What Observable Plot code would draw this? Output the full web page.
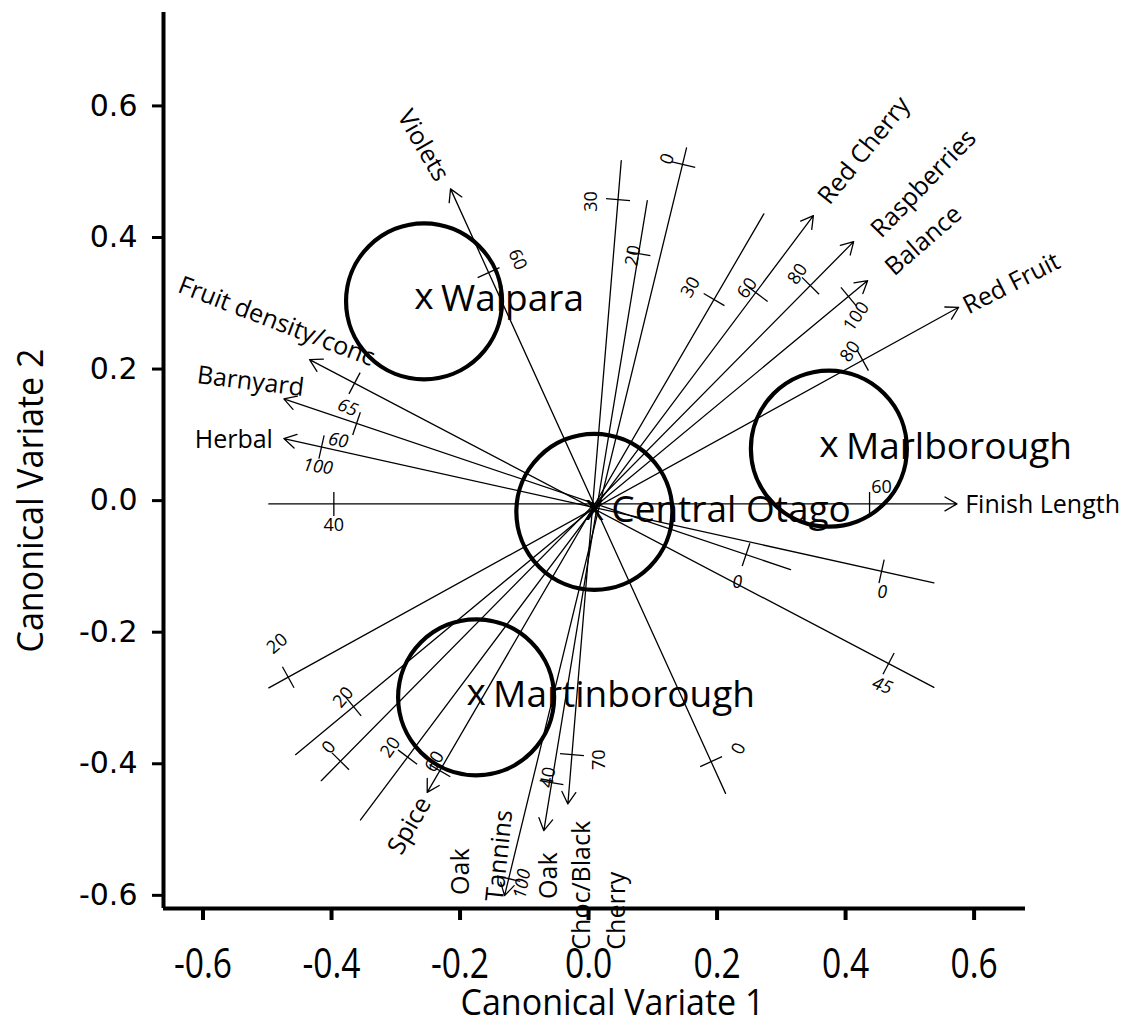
<!DOCTYPE html>
<html>
<head>
<meta charset="utf-8">
<script src="https://cdn.jsdelivr.net/npm/d3@7"></script>
<script src="https://cdn.jsdelivr.net/npm/@observablehq/plot@0.6"></script>
<style>
html, body { margin: 0; padding: 0; background: #fff; }
#chart { width: 1129px; height: 1026px; }
</style>
</head>
<body>
<div id="chart"></div>
<script>
// ---- Axis ticks ----
const xTicks = [-0.6, -0.4, -0.2, 0, 0.2, 0.4, 0.6];
const yTicks = [-0.6, -0.4, -0.2, 0, 0.2, 0.4, 0.6];
const xTitle = "Canonical Variate 1";
const yTitle = "Canonical Variate 2";

// ---- Group means (canonical variate scores) ----
const groupNames = ["Waipara", "Marlborough", "Central Otago", "Martinborough"];
const groupCV1 = [-0.256, 0.374, 0.009, -0.175];
const groupCV2 = [0.303, 0.079, -0.017, -0.299];

// ---- Attribute biplot axes: arrow tip and far end ----
const variables = ["Violets", "Fruit density/conc", "Barnyard", "Herbal", "Finish Length",
  "Red Cherry", "Raspberries", "Balance", "Red Fruit", "Spice", "Tannins", "Oak", "Choc/Black Cherry"];
const tipCV1 = [-0.2148, -0.4342, -0.4742, -0.4742, 0.5734, 0.3499, 0.4126, 0.4344, 0.5760, -0.2511, -0.1307, -0.0696, -0.0322];
const tipCV2 = [0.4739, 0.2144, 0.1546, 0.0943, -0.0050, 0.4333, 0.3937, 0.3345, 0.2939, -0.4435, -0.6005, -0.5017, -0.4611];
const farCV1 = [0.2132, 0.5374, 0.3144, 0.5374, -0.4976, -0.3549, -0.4160, -0.4560, -0.4976, 0.2728, 0.1525, 0.0914, 0.0509];
const farCV2 = [-0.4450, -0.2838, -0.1049, -0.1251, -0.0050, -0.4854, -0.4257, -0.3861, -0.2847, 0.4359, 0.5362, 0.4561, 0.5169];

// ---- Attribute labels ----
const labelText = ["Violets", "Fruit density/conc", "Barnyard", "Herbal", "Finish Length",
  "Red Cherry", "Raspberries", "Balance", "Red Fruit", "Spice", "Oak", "Tannins", "Oak", "Choc/Black\nCherry"];
const labelCV1 = [-0.2576, -0.4856, -0.5261, -0.5521, 0.7066, 0.4288, 0.5214, 0.5214, 0.6584, -0.2786, -0.1992, -0.1385, -0.0623, 0.0117];
const labelCV2 = [0.5397, 0.2721, 0.1809, 0.0917, -0.0061, 0.5321, 0.4819, 0.3953, 0.3299, -0.4941, -0.5640, -0.5397, -0.5701, -0.6826];
const labelAngle = [60, 21, 7, 0, 0, -51, -46, -41, -27, -60, -90, -84, -90, -90];
const labelStartAnchored = [false, false, false, false, false, false, false, false, false, false, false, false, false, true];

// ---- Calibration ticks on the biplot axes ----
const tickVar = [0, 0, 1, 2, 3, 4, 4, 2, 3, 1, 8, 7, 6, 5, 9, 9, 5, 6, 7, 8, 12, 11, 10, 11, 12, 10];
const tickValue = ["60", "0", "65", "60", "100", "40", "60", "0", "0", "45", "20", "20", "0", "20", "60", "30", "60", "80", "100", "80", "30", "20", "0", "40", "70", "100"];
const tickCV1 = [-0.1556, 0.1907, -0.3642, -0.3611, -0.4156, -0.3964, 0.4373, 0.2451, 0.4560, 0.4669, -0.4674, -0.3658, -0.3860, -0.2817, -0.2313, 0.1953, 0.2638, 0.3455, 0.4047, 0.4265, 0.0459, 0.0778, 0.1479, -0.0576, -0.0258, -0.1245];
const tickCV2 = [0.3466, -0.3968, 0.1785, 0.1171, 0.0815, -0.0050, -0.0050, -0.0821, -0.1075, -0.2478, -0.2685, -0.3132, -0.3963, -0.3898, -0.4105, 0.3056, 0.3136, 0.3265, 0.3101, 0.2136, 0.4576, 0.3755, 0.5108, -0.4287, -0.3861, -0.5746];
const tickLabelCV1 = [-0.1105, 0.2335, -0.3751, -0.3896, -0.4213, -0.3964, 0.4560, 0.2314, 0.4571, 0.4571, -0.4845, -0.3818, -0.4042, -0.3082, -0.2397, 0.1588, 0.2470, 0.3253, 0.4167, 0.4072, 0.0044, 0.0693, 0.1225, -0.0630, 0.0160, -0.1032];
const tickLabelCV2 = [0.3664, -0.3770, 0.1414, 0.0912, 0.0517, -0.0380, 0.0198, -0.1242, -0.1394, -0.2812, -0.2174, -0.2990, -0.3750, -0.3750, -0.3968, 0.3243, 0.3231, 0.3446, 0.2800, 0.2268, 0.4549, 0.3725, 0.5195, -0.4206, -0.3937, -0.5827];
const tickLabelAngle = [66, -65, 22, 10, 8, 0, 0, 0, 0, 20, -40, -50, -50, -55, -60, -60, -55, -55, -55, -55, -90, -80, -70, -80, -90, -80];
const tickItalic = [false, false, true, true, true, false, false, true, true, true, false, false, false, false, false, false, false, false, false, false, false, false, false, false, false, true];

// ---- Layout ----
const W = 1129, H = 1026;
const mL = 163, mR = 104, mT = 12, mB = 118;
const xDom = [-0.6615, 0.680], yDom = [-0.620, 0.742];
const kx = (W - mL - mR) / (xDom[1] - xDom[0]);
const ky = (H - mT - mB) / (yDom[1] - yDom[0]);

const groups = groupNames.map((name, i) => ({name, x: groupCV1[i], y: groupCV2[i]}));
const vectors = variables.map((name, i) => ({name, x1: farCV1[i], y1: farCV2[i], x2: tipCV1[i], y2: tipCV2[i]}));
const labels = labelText.map((t, i) => ({text: t, x: labelCV1[i], y: labelCV2[i], angle: labelAngle[i], start: labelStartAnchored[i]}));

const half = 12;
const ticks = tickVar.map((v, i) => {
  const vec = vectors[v];
  const dx = (vec.x2 - vec.x1) * kx, dy = -(vec.y2 - vec.y1) * ky;
  const len = Math.hypot(dx, dy);
  const px = -dy / len, py = dx / len;
  return {
    x1: tickCV1[i] - half * px / kx, y1: tickCV2[i] + half * py / ky,
    x2: tickCV1[i] + half * px / kx, y2: tickCV2[i] - half * py / ky,
    label: tickValue[i], lx: tickLabelCV1[i], ly: tickLabelCV2[i],
    angle: tickLabelAngle[i], italic: tickItalic[i]
  };
});

const font = "'Open Sans', sans-serif";
const chart = Plot.plot({
  width: W, height: H,
  marginLeft: mL, marginRight: mR, marginTop: mT, marginBottom: mB,
  x: {domain: xDom},
  y: {domain: yDom},
  style: {fontFamily: font, background: "white", color: "black", overflow: "visible"},
  marks: [
    Plot.axisX({ticks: xTicks, tickFormat: d => d.toFixed(1), tickSize: 12, tickPadding: 28,
      fontSize: 42, strokeWidth: 4, label: null}),
    Plot.axisY({ticks: yTicks, tickFormat: d => d.toFixed(1), tickSize: 11, tickPadding: 15,
      fontSize: 30, fontFamily: "'DejaVu Sans', sans-serif", strokeWidth: 3, label: null}),
    Plot.ruleX([xDom[0]], {strokeWidth: 4}),
    Plot.ruleY([yDom[0]], {strokeWidth: 4}),
    Plot.dot(groups, {x: "x", y: "y", r: 78, stroke: "black", strokeWidth: 4.2, fill: "none"}),
    Plot.arrow(vectors, {x1: "x1", y1: "y1", x2: "x2", y2: "y2", stroke: "black", strokeWidth: 1.3, headLength: 16, headAngle: 60}),
    Plot.link(ticks, {x1: "x1", y1: "y1", x2: "x2", y2: "y2", stroke: "black", strokeWidth: 1.3}),
    Plot.text(ticks.filter(d => !d.italic), {x: "lx", y: "ly", text: "label", rotate: "angle", fontSize: 18, fill: "black"}),
    Plot.text(ticks.filter(d => d.italic), {x: "lx", y: "ly", text: "label", rotate: "angle", fontSize: 18, fontStyle: "italic", fill: "black"}),
    Plot.text(labels.filter(d => !d.start), {x: "x", y: "y", text: "text", rotate: "angle", fontSize: 25, fill: "black"}),
    Plot.text(labels.filter(d => d.start), {x: "x", y: "y", text: "text", rotate: "angle", fontSize: 25, textAnchor: "start", lineHeight: 1.4, fill: "black"}),
    Plot.text(groups, {x: "x", y: "y", text: () => "x", fontSize: 37, dy: -4, fill: "black"}),
    Plot.text(groups, {x: "x", y: "y", text: "name", fontSize: 37, textAnchor: "start", dx: 17, dy: -2, fill: "black"}),
    Plot.text([xTitle], {frameAnchor: "bottom", text: d => d, fontSize: 37, dx: 18, dy: 95,
      textAnchor: "middle", lineAnchor: "middle", fill: "black", ariaDescription: "axis-title"}),
    Plot.text([yTitle], {frameAnchor: "left", text: d => d, fontSize: 37, rotate: -90, dx: -132, dy: 40,
      textAnchor: "middle", lineAnchor: "middle", fill: "black", ariaDescription: "axis-title"})
  ]
});
document.getElementById("chart").appendChild(chart);

// Narrow the Calibri-like axis texts horizontally (keeps their anchor point)
function condense(nodes, s) {
  nodes.forEach(t => {
    const tr = t.getAttribute("transform") || "";
    const x = t.getAttribute("x");
    if (x != null && /^-?[\d.]+$/.test(x)) t.setAttribute("x", String(parseFloat(x) / s));
    t.setAttribute("transform", (tr + ` scale(${s},1)`).trim());
  });
}
condense([...chart.querySelectorAll('g[aria-label="x-axis tick label"] text')], 0.8);
condense([...chart.querySelectorAll('g[aria-description="axis-title"] text')], 0.92);
</script>
</body>
</html>
